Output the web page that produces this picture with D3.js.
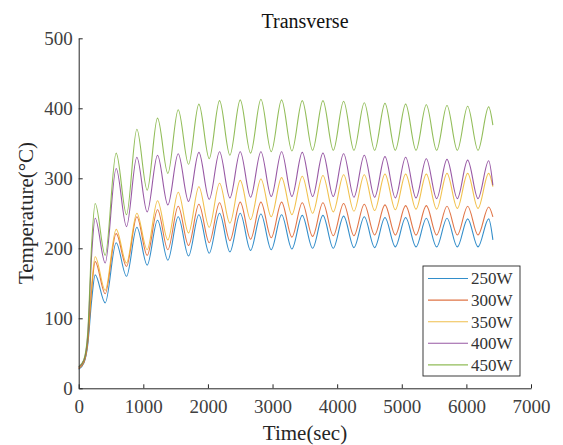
<!DOCTYPE html>
<html>
<head>
<meta charset="utf-8">
<script src="https://cdn.jsdelivr.net/npm/d3@7"></script>
<style>
  body { margin: 0; background: #fff; }
  svg text { font-family: "Liberation Serif", "Times New Roman", serif; }
</style>
</head>
<body>
<div id="chart"></div>
<script>
// series names + colours (matlab defaults)
const names = ["250W", "300W", "350W", "400W", "450W"];
const colors = ["#0072BD", "#D95319", "#EDB120", "#7E2F8E", "#77AC30"];

// start of heating
const riseTimes = [0, 80, 140, 200];
const rise = [
  [27, 36, 62, 125],
  [28, 37, 66, 140],
  [29, 38, 68, 146],
  [30, 40, 75, 190],
  [31, 41, 80, 205]
];

// times of the maxima and minima (sec)
const peakTimes = [255, 580, 900, 1220, 1540, 1860, 2180, 2500, 2820, 3140, 3460, 3780, 4100, 4420, 4740, 5060, 5380, 5700, 6020, 6345];
const troughTimes = [410, 740, 1060, 1380, 1700, 2020, 2340, 2660, 2980, 3300, 3620, 3940, 4260, 4580, 4900, 5220, 5540, 5860, 6180];

const peaks = [
  [162, 208, 230, 240, 245, 248, 250, 250, 249, 248, 247, 247, 246, 245, 244, 244, 243, 243, 242, 242],
  [181, 221, 245, 255, 260, 263, 265, 266, 266, 266, 265, 265, 264, 263, 262, 261, 261, 260, 260, 259],
  [188, 227, 250, 268, 280, 288, 293, 297, 299, 301, 303, 304, 305, 305, 306, 306, 306, 307, 307, 307],
  [243, 314, 330, 333, 335, 337, 338, 338, 338, 338, 337, 336, 335, 333, 331, 330, 328, 327, 326, 325],
  [264, 336, 370, 386, 398, 406, 411, 412, 413, 412, 411, 411, 410, 408, 407, 406, 405, 404, 403, 402]
];
const troughs = [
  [122, 160, 176, 183, 189, 193, 195, 197, 198, 199, 200, 200, 201, 201, 202, 202, 202, 202, 202],
  [135, 174, 190, 198, 204, 208, 211, 213, 215, 216, 217, 218, 218, 219, 219, 219, 219, 219, 219],
  [140, 179, 198, 212, 222, 230, 236, 241, 245, 248, 250, 252, 253, 254, 255, 256, 256, 257, 257],
  [179, 231, 252, 262, 267, 270, 272, 273, 274, 274, 274, 274, 273, 273, 272, 272, 271, 271, 271],
  [190, 248, 283, 307, 320, 328, 333, 336, 338, 339, 340, 340, 340, 340, 340, 340, 340, 340, 340]
];

const endTime = 6410;
const endValues = [212, 245, 288, 290, 376];

const xTicks = [0, 1000, 2000, 3000, 4000, 5000, 6000, 7000];
const yTicks = [0, 100, 200, 300, 400, 500];

// build point lists
const series = names.map((name, s) => {
  let pts = riseTimes.map((t, i) => [t, rise[s][i]]);
  peakTimes.forEach((t, i) => {
    pts.push([t, peaks[s][i]]);
    if (i < troughTimes.length) pts.push([troughTimes[i], troughs[s][i]]);
  });
  pts.push([endTime, endValues[s]]);
  return { name: name, color: colors[s], pts: pts };
});

const W = 563, H = 445;
const svg = d3.select("#chart").append("svg")
  .attr("width", W).attr("height", H);

const x = d3.scaleLinear().domain([0, 7000]).range([78.7, 531]);
const y = d3.scaleLinear().domain([0, 500]).range([388.3, 38.3]);

// lines
const line = d3.line()
  .x(d => x(d[0]))
  .y(d => y(d[1]))
  .curve(d3.curveMonotoneX);

svg.append("g").selectAll("path")
  .data(series)
  .enter()
  .append("path")
  .attr("d", d => line(d.pts))
  .attr("fill", "none")
  .attr("stroke", d => d.color)
  .attr("stroke-width", 1.1)
  .attr("opacity", 0.8);

// axes, matlab style ticks inside
const xAxis = svg.append("g")
  .attr("transform", "translate(0," + y(0) + ")")
  .call(d3.axisBottom(x).tickValues(xTicks).tickFormat(d3.format("d"))
    .tickSizeInner(-4).tickSizeOuter(0).tickPadding(11.5));

const yAxis = svg.append("g")
  .attr("transform", "translate(" + x(0) + ",0)")
  .call(d3.axisLeft(y).tickValues(yTicks).tickFormat(d3.format("d"))
    .tickSizeInner(-4).tickSizeOuter(0).tickPadding(6));

[xAxis, yAxis].forEach(a => {
  a.attr("font-family", "Liberation Serif").attr("font-size", 19);
  a.select(".domain").attr("stroke", "#262626");
  a.selectAll(".tick line").attr("stroke", "#262626");
  a.selectAll(".tick text")
    .attr("fill", "#404040")
    .attr("font-family", "Liberation Serif");
});

// title + labels
svg.append("text")
  .attr("x", 305).attr("y", 28)
  .attr("text-anchor", "middle")
  .style("font-size", "20px")
  .attr("fill", "#111")
  .text("Transverse");

svg.append("text")
  .attr("x", 305).attr("y", 440)
  .attr("text-anchor", "middle")
  .style("font-size", "21px")
  .attr("fill", "#262626")
  .text("Time(sec)");

svg.append("text")
  .attr("transform", "translate(33,213) rotate(-90)")
  .attr("text-anchor", "middle")
  .style("font-size", "21px")
  .attr("fill", "#262626")
  .text("Temperature(°C)");

// legend
const legend = svg.append("g");
legend.append("rect")
  .attr("x", 423).attr("y", 266)
  .attr("width", 97).attr("height", 110)
  .attr("fill", "#fff")
  .attr("stroke", "#262626")
  .attr("stroke-width", 0.9);

const items = legend.selectAll("g.item")
  .data(series)
  .enter()
  .append("g")
  .attr("class", "item")
  .attr("transform", (d, i) => "translate(0," + (278.5 + i * 21.6) + ")");

items.append("line")
  .attr("x1", 428).attr("x2", 468)
  .attr("stroke", d => d.color)
  .attr("stroke-width", 1.1)
  .attr("opacity", 0.8);

items.append("text")
  .attr("x", 471)
  .attr("dy", "0.35em")
  .style("font-size", "17px")
  .attr("fill", "#333")
  .text(d => d.name);
</script>
</body>
</html>
